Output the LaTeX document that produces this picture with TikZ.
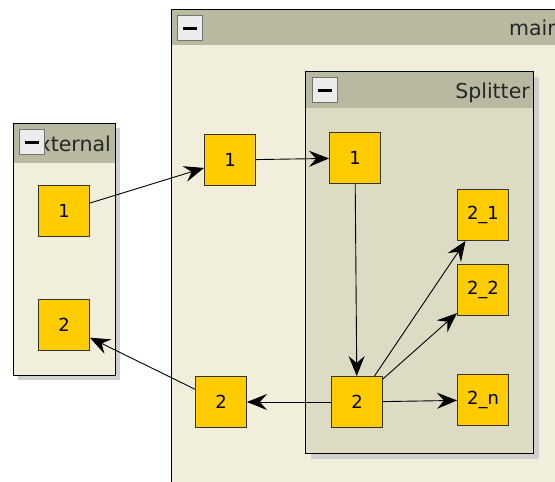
\documentclass[tikz,border=0pt]{standalone}
\usepackage{fontspec}
\setmainfont{DejaVu Sans}
\usetikzlibrary{arrows.meta}
\definecolor{bodycol}{HTML}{F1EFDB}
\definecolor{headcol}{HTML}{B9B8A0}
\definecolor{innercol}{HTML}{DEDBC5}
\definecolor{portcol}{HTML}{FFCC00}
\definecolor{shadecol}{HTML}{CFCFCF}
\definecolor{btncol}{HTML}{ECECEC}
\tikzset{
  port/.style={draw=black!80, fill=portcol, line width=0.9pt, minimum size=51pt,
    inner sep=0pt, font=\fontsize{18}{18}\selectfont},
  link/.style={-{Stealth[length=20pt,width=16pt,inset=7pt]}, line width=0.9pt},
  btn/.style={draw=black!55, fill=btncol, line width=0.8pt, minimum size=25pt, inner sep=0pt},
  headtext/.style={font=\fontsize{20.5}{20.5}\selectfont, text=black!85, inner sep=0pt}
}
\newcommand{\minusbtn}[2]{%
  \node[btn] (#1) at (#2) {};
  \draw[line width=3pt] ([xshift=-7pt]#1.center) -- ([xshift=7pt]#1.center);}
\begin{document}
\begin{tikzpicture}[x=1pt,y=-1pt]
    \useasboundingbox (0,0) rectangle (555,482);
    % main block
    \fill[bodycol] (171,9) rectangle (620,500);
    \fill[headcol] (171,9) rectangle (620,45);
    \draw[line width=1pt] (171,500) -- (171,9) -- (620,9);
    \node[headtext, anchor=base west] (maintitle) at (509,35) {main};
    \minusbtn{mainbtn}{190,28}
    % external block
    \fill[shadecol] (18,128) rectangle (120,380);
    \fill[bodycol] (13,123) rectangle (115,375);
    \fill[headcol] (13,123) rectangle (115,163);
    \begin{scope}
      \clip (13,123) rectangle (115,163);
      \node[headtext, anchor=base east] (exttitle) at (111,151) {External};
    \end{scope}
    \draw[line width=1pt] (13,123) rectangle (115,375);
    \minusbtn{extbtn}{32,142}
    % splitter block
    \fill[shadecol] (311,77) rectangle (539,459);
    \fill[innercol] (305,71) rectangle (533,453);
    \fill[headcol] (305,71) rectangle (533,108);
    \node[headtext, anchor=base east] (splittitle) at (530,98) {Splitter};
    \draw[line width=1pt] (305,71) rectangle (533,453);
    \minusbtn{splitbtn}{325,90}
    % ports
    \node[port] (ext1) at (64,211) {1};
    \node[port] (ext2) at (64,325) {2};
    \node[port] (m1) at (230,160) {1};
    \node[port] (m2) at (221,402) {2};
    \node[port] (s1) at (355,158) {1};
    \node[port] (s2) at (357,402) {2};
    \node[port] (s21) at (483,215) {2\_1};
    \node[port] (s22) at (483,290) {2\_2};
    \node[port] (s2n) at (483,400) {2\_n};
    % connections
    \draw[link] (ext1) -- (m1);
    \draw[link] (m1) -- (s1);
    \draw[link] (s1) -- (s2);
    \draw[link] (s2) -- (s21);
    \draw[link] (s2) -- (s22);
    \draw[link] (s2) -- (s2n);
    \draw[link] (s2) -- (m2);
    \draw[link] (m2) -- (ext2);
\end{tikzpicture}
\end{document}
